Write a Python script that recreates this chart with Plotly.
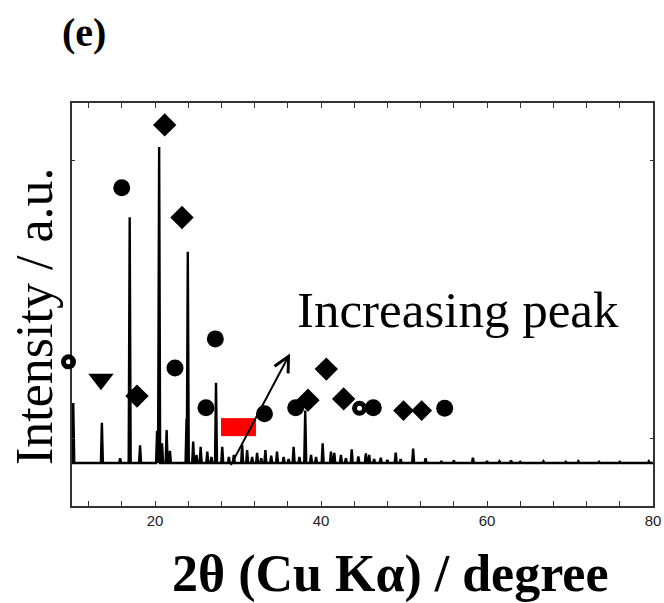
import plotly.graph_objects as go

# ---------------- data ----------------
# XRD peak list: 2theta (deg) and intensity (a.u.)
peak_pos = [10.15, 13.6, 15.8, 16.95, 18.2, 20.25, 20.5, 20.85, 21.4, 21.8,
            23.8, 23.95, 24.6, 25.0, 25.5, 26.3, 26.8, 27.35, 28.1, 28.9, 29.5, 30.5,
            31.1, 31.7, 32.3, 32.8, 33.3, 34.0, 34.7, 35.5, 36.1, 36.7, 37.4, 38.1, 38.8,
            39.4, 40.2, 41.2, 41.6, 42.4, 43.0, 43.7, 44.5, 45.4, 45.8,
            46.4, 47.2, 48.0, 49.0, 49.6, 51.1, 52.6, 54.5, 56.0, 58.3,
            60.0, 61.5, 62.9, 64.0, 66.8, 69.5, 71.0, 73.5, 76.0, 79.5]
peak_int = [14.9, 10.0, 1.2, 61.0, 4.4, 8.0, 78.4, 4.9, 8.2, 3.0,
            11.0, 52.4, 5.3, 2.0, 4.0, 2.8, 1.5, 19.9, 4.0, 1.5, 2.0, 4.5,
            3.2, 1.5, 2.5, 1.2, 3.2, 1.8, 2.8, 1.5, 1.0, 4.0, 1.5, 13.0, 2.0,
            1.5, 4.9, 2.8, 2.5, 2.0, 1.2, 3.4, 1.6, 2.4, 2.0,
            1.0, 1.3, 0.8, 2.6, 1.0, 3.6, 1.2, 0.5, 0.6, 1.3,
            0.5, 0.4, 0.6, 0.3, 0.4, 0.3, 0.4, 0.3, 0.3, 0.4]
scan_start, scan_end = 10.0, 80.0

# phase markers (label positions in data units)
circle_x = [15.99, 22.41, 27.27, 26.14, 33.19, 36.95, 46.30, 54.90]
circle_y = [68.3, 23.6, 30.8, 13.7, 12.2, 13.7, 13.7, 13.6]
diamond_x = [21.17, 23.25, 17.83, 38.43, 40.64, 42.73]
diamond_y = [83.9, 60.9, 16.6, 15.6, 23.3, 15.9]
diamond_small_x = [49.94, 52.13]
diamond_small_y = [13.0, 13.0]
ring_x = [9.58, 44.64]
ring_y = [25.1, 13.6]
triangle_x = [13.49]
triangle_y = [20.8]
red_x = [29.04, 31.08]
red_y = [8.9, 8.9]

arrow_tail = (29.04, -0.9)
arrow_head = (36.27, 27.2)

x_tickvals = [12, 16, 20, 24, 28, 32, 36, 40, 44, 48, 52, 56, 60, 64, 68, 72, 76, 80]
x_ticktext = ["", "", "20", "", "", "", "", "40", "", "", "", "", "60", "", "", "", "", "80"]
y_tickvals = [6, 75]

x_range = [10, 80]
y_range = [-10.67, 89.33]

# ---------------- layout geometry (pixels) ----------------
W, H = 664, 603
ML, MR, MT, MB = 60, 11, 103, 97          # outer margins
PLOT_LEFT = 72                             # left edge of the framed plot box
plot_w = W - ML - MR
dom_start = (PLOT_LEFT - ML) / plot_w
# helper axis spanning the whole width with the identical data->pixel mapping
px_per_unit = (W - MR - PLOT_LEFT) / (x_range[1] - x_range[0])
x2_range = [x_range[0] - (PLOT_LEFT - ML) / px_per_unit, x_range[1]]

# ---------------- build trace from peak list ----------------
half_w = 0.12
xs, ys = [scan_start], [0.0]
for p, h in sorted(zip(peak_pos, peak_int)):
    xs += [p - half_w, p, p + half_w]
    ys += [0.0, h, 0.0]
xs.append(scan_end)
ys.append(0.0)

fig = go.Figure()
fig.add_trace(go.Scatter(x=xs, y=ys, mode="lines",
                         line=dict(color="black", width=2.4), showlegend=False,
                         hoverinfo="skip"))

def mk(x, y, symbol, size, color="black", lw=0, xaxis="x"):
    fig.add_trace(go.Scatter(
        x=x, y=y, mode="markers", cliponaxis=False, showlegend=False, xaxis=xaxis,
        marker=dict(symbol=symbol, size=size, color=color,
                    line=dict(color=color, width=lw))))

mk(circle_x, circle_y, "circle", 17)
mk(diamond_x, diamond_y, "diamond", 18)
mk(diamond_small_x, diamond_small_y, "diamond", 16)
mk(triangle_x, triangle_y, "triangle-down", 22)
mk(red_x, red_y, "square", 18, color="#ff0000")
mk(ring_x, ring_y, "circle-open", 10, lw=5, xaxis="x2")

axis_common = dict(showline=True, linecolor="#333", linewidth=1.5, mirror="ticks",
                   ticks="inside", tickcolor="#333", tickwidth=1, showgrid=False,
                   zeroline=False, automargin=False)

fig.update_layout(
    xaxis=dict(range=x_range, domain=[dom_start, 1], tickmode="array",
               tickvals=x_tickvals, ticktext=x_ticktext, ticklen=5,
               tickfont=dict(family="Liberation Sans, Arial", size=15, color="#222"),
               **axis_common),
    yaxis=dict(range=y_range, tickmode="array", tickvals=y_tickvals,
               showticklabels=False, ticklen=3, **axis_common),
    xaxis2=dict(range=x2_range, domain=[0, 1], anchor="y", visible=False,
                showgrid=False, zeroline=False, automargin=False),
)

fig.add_annotation(x=arrow_head[0], y=arrow_head[1], ax=arrow_tail[0], ay=arrow_tail[1],
                   xref="x", yref="y", axref="x", ayref="y", text="",
                   showarrow=True, arrowhead=5, arrowsize=1.5, arrowwidth=2,
                   arrowcolor="black", standoff=0)

fig.add_annotation(x=56.5, y=38.0, xref="x", yref="y", text="Increasing peak",
                   showarrow=False, xanchor="center", yanchor="middle",
                   font=dict(family="Liberation Serif, Times New Roman", size=51, color="black"))

def px_to_paper(px, py):
    return (px - ML) / plot_w, (H - MB - py) / (H - MT - MB)

yt_x, yt_y = px_to_paper(34, 316)
fig.add_annotation(x=yt_x, y=yt_y, xref="paper", yref="paper",
                   text="Intensity / a.u.", textangle=-90, showarrow=False,
                   xanchor="center", yanchor="middle",
                   font=dict(family="Liberation Serif, Times New Roman", size=52, color="black"))

xt_x, xt_y = px_to_paper(390, 574)
fig.add_annotation(x=xt_x, y=xt_y, xref="paper", yref="paper",
                   text="<b>2θ (Cu Kα) / degree</b>", showarrow=False,
                   xanchor="center", yanchor="middle",
                   font=dict(family="Liberation Serif, Times New Roman", size=52, color="black"))

e_x, e_y = px_to_paper(84, 32)
fig.add_annotation(x=e_x, y=e_y, xref="paper", yref="paper",
                   text="<b>(e)</b>", showarrow=False, xanchor="center", yanchor="middle",
                   font=dict(family="Liberation Serif, Times New Roman", size=40, color="black"))

fig.update_layout(width=W, height=H, margin=dict(l=ML, r=MR, t=MT, b=MB, autoexpand=False),
                  plot_bgcolor="rgba(0,0,0,0)", paper_bgcolor="white")

fig.write_html("out.html", config={"displayModeBar": False},
               post_script="document.body.style.margin='0px';document.body.style.overflow='hidden';")
